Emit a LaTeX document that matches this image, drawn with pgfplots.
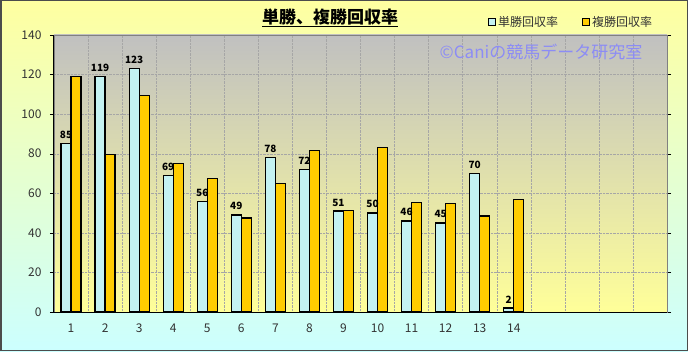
\documentclass[border=0pt]{standalone}
\usepackage{fontspec}
\setmainfont{Noto Sans CJK JP}
\usepackage{pgfplots}
\pgfplotsset{compat=1.18}
\definecolor{bgtop}{HTML}{FFFFA0}
\definecolor{bgbot}{HTML}{CCFFFF}
\definecolor{patop}{HTML}{C0C0C0}
\definecolor{pabot}{HTML}{FFFF99}
\definecolor{cyanbar}{HTML}{C4F2F2}
\definecolor{goldbar}{HTML}{FFCC00}
\definecolor{ticktext}{HTML}{333333}
\definecolor{wm}{HTML}{8C8CF5}
\begin{document}
\begin{tikzpicture}[x=1pt,y=1pt]
\shade[top color=bgtop, bottom color=bgbot] (0,0) rectangle (688,351);
\begin{axis}[
  at={(54pt,39pt)}, anchor=south west,
  scale only axis, width=613pt, height=277pt,
  ymin=0, ymax=140, ytick={0,20,...,140},
  xmin=0.5, xmax=18.5, xtick={1,...,14},
  minor xtick={1.5,2.5,...,17.5},
  ymajorgrids, xminorgrids,
  grid style={densely dotted, draw=black!35},
  minor grid style={densely dotted, draw=black!35},
  axis background/.style={top color=patop, bottom color=pabot},
  axis line style={draw=gray},
  tick align=outside,
  xtick style={draw=none},
  minor tick length=0pt,
  ytick style={draw=black},
  major tick length=4pt,
  ybar=0pt, bar width=10pt,
  /pgf/number format/assume math mode=true,
  tick label style={font=\fontsize{12}{14}\selectfont, text=ticktext},
  yticklabel style={xshift=-5pt},
  xticklabel style={yshift=-4pt},
  legend style={at={(0.703,1.047)}, anchor=west, draw=none, fill=none,
    font=\fontsize{12}{14}\selectfont, text=ticktext,
    /tikz/every even column/.append style={column sep=22pt}},
  legend columns=2,
  legend image code/.code={\draw[#1, draw=black, line width=1pt] (0pt,-3.5pt) rectangle (7pt,3.5pt);},
  clip=false,
]
\addplot[draw=black, line width=1.2pt, fill=cyanbar,
  nodes near coords, every node near coord/.append style={font=\bfseries\fontsize{10}{12}\selectfont, text=black, yshift=1pt}]
  coordinates {(1,85) (2,119) (3,123) (4,69) (5,56) (6,49) (7,78) (8,72) (9,51) (10,50) (11,46) (12,45) (13,70) (14,2)};
\addlegendentry{単勝回収率}
\addplot[draw=black, line width=1.2pt, fill=goldbar]
  coordinates {(1,119) (2,79.5) (3,109.5) (4,75) (5,67.5) (6,47.5) (7,65) (8,81.5) (9,51.5) (10,83) (11,55.5) (12,55) (13,48.5) (14,57)};
\addlegendentry{複勝回収率}
\draw[black, line width=1pt] (rel axis cs:0,1) -- (rel axis cs:0,0) -- (rel axis cs:1,0);
\end{axis}
\node[font=\bfseries\fontsize{17}{20}\selectfont] at (330,333) {\underline{単勝、複勝回収率}};
\node[text=wm, font=\fontsize{17}{20}\selectfont] at (541,299) {©Caniの競馬データ研究室};
\draw[line width=1.5pt, draw=black!70] (0.75,0.75) rectangle (687.25,350.25);
\end{tikzpicture}
\end{document}
